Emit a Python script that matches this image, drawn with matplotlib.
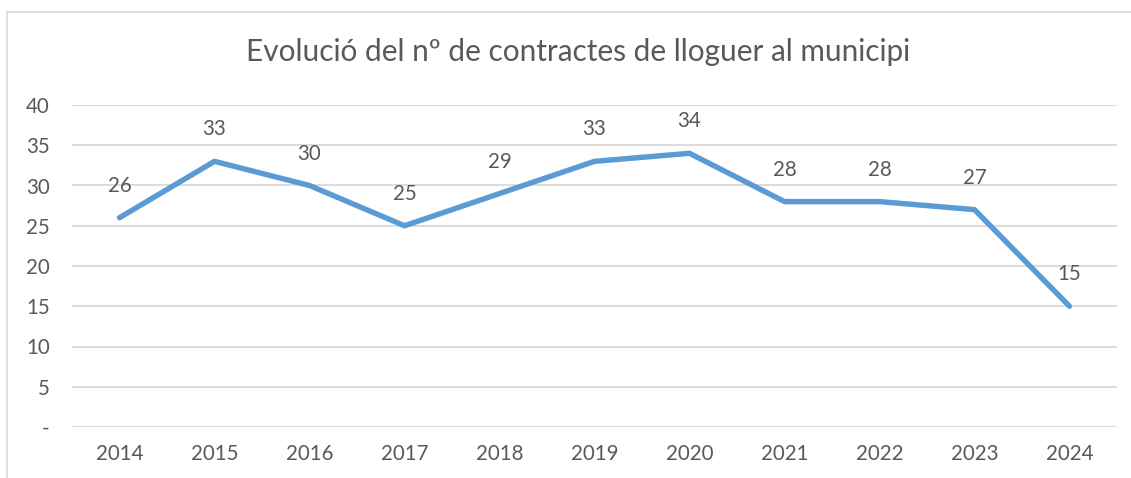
import matplotlib.pyplot as plt
from matplotlib.patches import Rectangle

# values
years = ['2014', '2015', '2016', '2017', '2018', '2019', '2020', '2021', '2022', '2023', '2024']
contracts = [26, 33, 30, 25, 29, 33, 34, 28, 28, 27, 15]
yticks = [0, 5, 10, 15, 20, 25, 30, 35, 40]
ytick_labels = ['-', '5', '10', '15', '20', '25', '30', '35', '40']

text_color = '#595959'
line_color = '#5B9BD5'
grid_color = '#D9D9D9'

plt.rcParams['font.family'] = ['Lato', 'DejaVu Sans']

W, H = 1131, 478
fig = plt.figure(figsize=(W / 100, H / 100), dpi=100)
ax = fig.add_axes([72 / W, 1 - 427 / H, (1117 - 72) / W, (427 - 105) / H])

# chart border (top and left visible, rest cut off)
fig.patches.append(Rectangle((7 / W, -0.1), 1.2, 1 - 12 / H + 0.1,
                             transform=fig.transFigure, fill=False,
                             edgecolor=grid_color, linewidth=1.2))

x = list(range(len(years)))
ax.plot(x, contracts, color=line_color, linewidth=3.9, solid_capstyle='round',
        solid_joinstyle='round', zorder=3)

for xi, v in zip(x, contracts):
    ax.annotate(str(v), (xi, v), xytext=(0, 23), textcoords='offset points',
                ha='center', va='center', fontsize=14.8, color=text_color)

ax.set_xlim(-0.5, len(years) - 0.5)
ax.set_ylim(0, 40)
ax.set_xticks(x)
ax.set_xticklabels(years)
ax.set_yticks(yticks)
ax.set_yticklabels(ytick_labels)
ax.tick_params(axis='both', length=0, labelsize=14.8, colors=text_color)
ax.tick_params(axis='y', pad=16)
ax.tick_params(axis='x', pad=12)

ax.grid(axis='y', color=grid_color, linewidth=1.3)
ax.set_axisbelow(True)
for s in ax.spines.values():
    s.set_visible(False)

fig.text(578 / W, 1 - 52 / H, 'Evolució del nº de contractes de lloguer al municipi',
         ha='center', va='center', fontsize=21.4, color=text_color)

fig.savefig('out.png', dpi=100)
